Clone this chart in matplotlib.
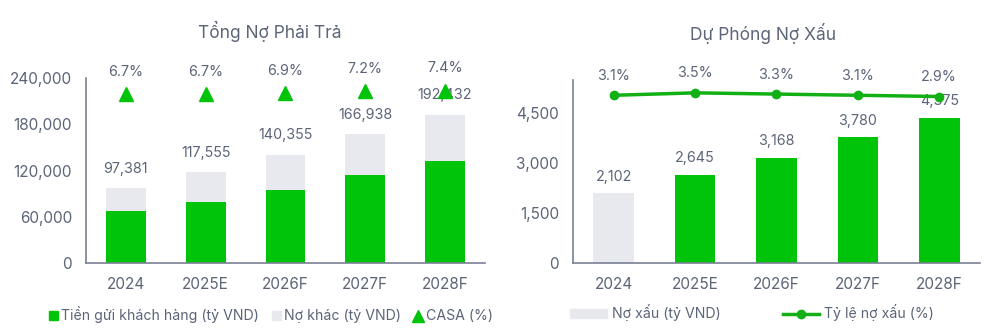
import matplotlib
matplotlib.use("Agg")
import matplotlib.pyplot as plt
from matplotlib.patches import Patch
from matplotlib.lines import Line2D

plt.rcParams["font.family"] = ["Inter", "DejaVu Sans"]

# data
years = ["2024", "2025E", "2026F", "2027F", "2028F"]
deposits = [67300, 79500, 94700, 114200, 132500]
total_liab = [97381, 117555, 140355, 166938, 192432]
casa = [6.7, 6.7, 6.9, 7.2, 7.4]

npl_prov = [2102, 2645, 3168, 3780, 4375]
npl_ratio = [3.1, 3.5, 3.3, 3.1, 2.9]

GREEN = "#00c40a"
LINE_GREEN = "#12b014"
GRAY = "#e8e9ee"
TXT = "#5c6478"
SPINE = "#7a8093"

fig = plt.figure(figsize=(9.96, 3.35), dpi=100)


def style(ax):
    for s in ["top", "right"]:
        ax.spines[s].set_visible(False)
    for s in ["left", "bottom"]:
        ax.spines[s].set_color(SPINE)
        ax.spines[s].set_linewidth(1.2)
    ax.tick_params(length=0, labelsize=11, colors=TXT, pad=10)


# ---- left: Tong No Phai Tra
ax1 = fig.add_axes([0.0863, 0.214, 0.4006, 0.554])
x = range(len(years))
others = [t - d for t, d in zip(total_liab, deposits)]
ax1.bar(x, deposits, width=0.5, color=GREEN)
ax1.bar(x, others, bottom=deposits, width=0.5, color=GRAY)
ax1.set_xlim(-0.5, 4.5)
ax1.set_ylim(0, 240000)
ax1.set_yticks(range(0, 240001, 60000))
ax1.yaxis.set_major_formatter(matplotlib.ticker.StrMethodFormatter("{x:,.0f}"))
ax1.set_xticks(list(x))
ax1.set_xticklabels(years)
style(ax1)
for i, t in enumerate(total_liab):
    ax1.annotate(f"{t:,}", (i, t), xytext=(0, 9), textcoords="offset points",
                 ha="center", va="bottom", fontsize=10.3, color=TXT)

ax1b = ax1.twinx()
ax1b.plot(x, casa, linestyle="none", marker="^", markersize=10, color=GREEN)
ax1b.set_ylim(-29, 10.1)
ax1b.axis("off")
for i, c in enumerate(casa):
    ax1b.annotate(f"{c}%", (i, c), xytext=(0, 11), textcoords="offset points",
                  ha="center", va="bottom", fontsize=10.3, color=TXT)

fig.text(0.271, 0.907, "Tổng Nợ Phải Trả", ha="center", va="center",
         fontsize=12.5, color=TXT)

fig.legend(handles=[Patch(color=GREEN, label="Tiền gửi khách hàng (tỷ VND)"),
                    Patch(color=GRAY, label="Nợ khác (tỷ VND)"),
                    Line2D([], [], linestyle="none", marker="^", markersize=8,
                           color=GREEN, label="CASA (%)")],
           loc="center", bbox_to_anchor=(0.272, 0.06), ncol=3, frameon=False,
           fontsize=10.2, labelcolor=TXT, handlelength=0.65, handleheight=0.65,
           handletextpad=0.2, columnspacing=0.9)

# ---- right: Du Phong No Xau
ax2 = fig.add_axes([0.5753, 0.214, 0.4086, 0.547])
bar_colors = [GRAY] + [GREEN] * (len(years) - 1)
ax2.bar(x, npl_prov, width=0.5, color=bar_colors)
ax2.set_xlim(-0.5, 4.5)
ax2.set_ylim(0, 5500)
ax2.set_yticks(range(0, 4501, 1500))
ax2.yaxis.set_major_formatter(matplotlib.ticker.StrMethodFormatter("{x:,.0f}"))
ax2.set_xticks(list(x))
ax2.set_xticklabels(years)
style(ax2)
for i, v in enumerate(npl_prov):
    ax2.annotate(f"{v:,}", (i, v), xytext=(0, 7), textcoords="offset points",
                 ha="center", va="bottom", fontsize=10.3, color=TXT)

ax2b = ax2.twinx()
ax2b.plot(x, npl_ratio, color=LINE_GREEN, linewidth=2.5, marker="o",
          markersize=6)
ax2b.set_ylim(-24.5, 5.6)
ax2b.axis("off")
for i, r in enumerate(npl_ratio):
    ax2b.annotate(f"{r}%", (i, r), xytext=(0, 9), textcoords="offset points",
                  ha="center", va="bottom", fontsize=10.3, color=TXT)

fig.text(0.766, 0.90, "Dự Phóng Nợ Xấu", ha="center", va="center",
         fontsize=12.5, color=TXT)

fig.legend(handles=[Patch(color=GRAY, label="Nợ xấu (tỷ VND)"),
                    Line2D([], [], color=LINE_GREEN, linewidth=2.5, marker="o",
                           markersize=6, label="Tỷ lệ nợ xấu (%)")],
           loc="center", bbox_to_anchor=(0.755, 0.066), ncol=2, frameon=False,
           fontsize=10.2, labelcolor=TXT, handlelength=2.6, handleheight=0.6,
           handletextpad=0.3, columnspacing=4.4)

fig.savefig("out.png", dpi=100)
